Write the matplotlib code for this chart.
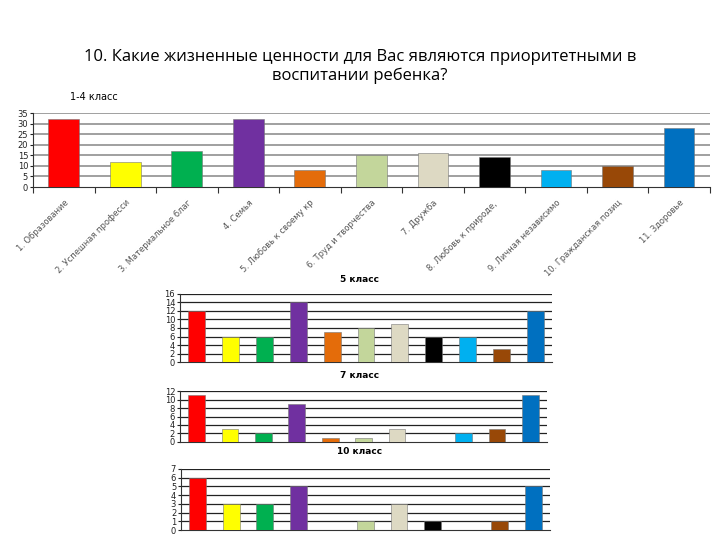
import matplotlib
matplotlib.use("Agg")
import matplotlib.pyplot as plt
import numpy as np

categories = ["1. Образование", "2. Успешная професси", "3. Материальное благ",
              "4. Семья", "5. Любовь к своему кр", "6. Труд и творчества",
              "7. Дружба", "8. Любовь к природе, ", "9. Личная независимо",
              "10. Гражданская позиц", "11. Здоровье"]
colors = ["#FF0000", "#FFFF00", "#00B050", "#7030A0", "#E46C0A", "#C3D69B",
          "#DDD9C3", "#000000", "#00B0F0", "#984807", "#0070C0"]

grade_1_4 = [32, 12, 17, 32, 8, 15, 16, 14, 8, 10, 28]
grade_5 = [12, 6, 6, 14, 7, 8, 9, 6, 6, 3, 12]
grade_7 = [11, 3, 2, 9, 1, 1, 3, 0, 2, 3, 11]
grade_10 = [6, 3, 3, 5, 0, 1, 3, 1, 0, 1, 5]

plt.rcParams['font.family'] = ['DejaVu Sans']

fig = plt.figure(figsize=(7.2, 5.4), dpi=100)
fig.patch.set_facecolor('white')

fig.text(0.5, 0.877, "10. Какие жизненные ценности для Вас являются приоритетными в\nвоспитании ребенка?",
         ha='center', va='center', fontsize=12, family='Open Sans', linespacing=1.2)


def draw(ax, vals, ymax, ystep, grid_color, grid_lw, labels=False):
    x = np.arange(len(vals))
    ax.bar(x, vals, width=0.5, color=colors, edgecolor='#777777', linewidth=0.4, zorder=3)
    ax.set_xlim(-0.5, len(vals) - 0.5)
    ax.set_ylim(0, ymax)
    ax.set_yticks(np.arange(0, ymax + 0.01, ystep))
    for y in np.arange(ystep, ymax + 0.01, ystep):
        ax.axhline(y, color=grid_color, lw=grid_lw, zorder=1)
    for s in ['top', 'right']:
        ax.spines[s].set_visible(False)
    ax.spines['left'].set_color('#333333')
    ax.spines['bottom'].set_color('#333333')
    ax.spines['left'].set_linewidth(0.8)
    ax.spines['bottom'].set_linewidth(0.8)
    ax.tick_params(axis='y', labelsize=6, length=2.5, pad=1, colors='#222222')
    if labels:
        ax.set_xticks(np.arange(-0.5, len(vals), 1.0))
        ax.set_xticklabels([])
        ax.tick_params(axis='x', length=4, direction='out', colors='#333333')
        for i, lab in enumerate(categories):
            ax.annotate(lab, xy=(i, 0), xycoords=('data', 'axes fraction'),
                        xytext=(0, -8), textcoords='offset points',
                        rotation=45, ha='right', va='top', rotation_mode='anchor',
                        fontsize=6, color='#555555')
    else:
        ax.set_xticks([])


ax1 = fig.add_axes([0.0458, 0.6537, 0.940, 0.137])
draw(ax1, grade_1_4, 35, 5, '#999999', 1.3, labels=True)
fig.text(0.097, 0.820, "1-4 класс", ha='left', va='center', fontsize=7)

ax2 = fig.add_axes([0.25, 0.3296, 0.5167, 0.126])
draw(ax2, grade_5, 16, 2, '#222222', 0.9)
fig.text(0.50, 0.482, "5 класс", ha='center', va='center', fontsize=6.5, fontweight='bold')

ax3 = fig.add_axes([0.25, 0.1815, 0.51, 0.0944])
draw(ax3, grade_7, 12, 2, '#222222', 0.9)
fig.text(0.50, 0.304, "7 класс", ha='center', va='center', fontsize=6.5, fontweight='bold')

ax4 = fig.add_axes([0.2514, 0.0185, 0.5125, 0.113])
draw(ax4, grade_10, 7, 1, '#222222', 0.9)
fig.text(0.50, 0.163, "10 класс", ha='center', va='center', fontsize=6.5, fontweight='bold')

fig.savefig("out.png", dpi=100)
